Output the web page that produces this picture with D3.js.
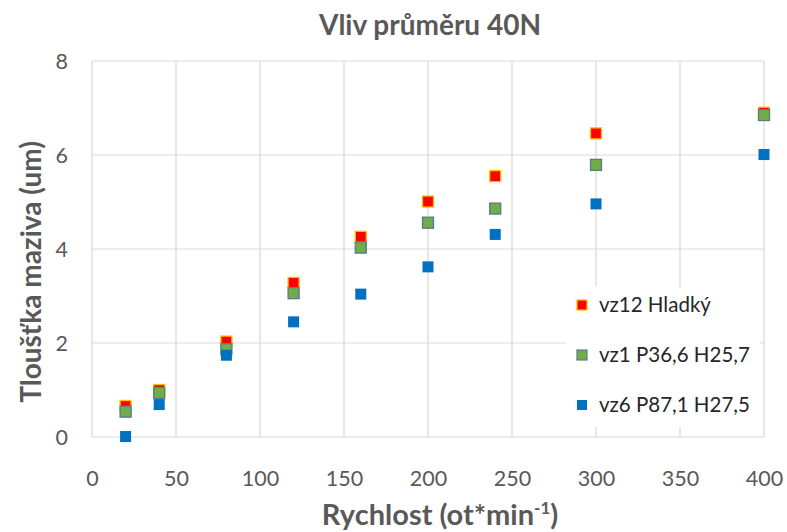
<!DOCTYPE html>
<html>
<head>
<meta charset="utf-8">
<script src="https://cdn.jsdelivr.net/npm/d3@7"></script>
<style>
  html, body { margin: 0; padding: 0; background: #fff; }
  svg { display: block; font-family: Lato, "Open Sans", sans-serif; }
</style>
</head>
<body>
<svg id="chart" width="787" height="532"></svg>
<script>
// Speeds (ot*min^-1) measured for each sample
const speeds = [20, 40, 80, 120, 160, 200, 240, 300, 400];

// Lubricant film thickness (um) per sample
const vz12 = [0.66, 1.00, 2.03, 3.28, 4.26, 5.01, 5.55, 6.46, 6.90];
const vz1  = [0.54, 0.94, 1.87, 3.06, 4.03, 4.56, 4.86, 5.79, 6.85];
const vz6  = [0.01, 0.69, 1.74, 2.45, 3.04, 3.62, 4.31, 4.96, 6.01];

const seriesNames = ["vz12 Hladký", "vz1 P36,6 H25,7", "vz6 P87,1 H27,5"];
const xTicks = [0, 50, 100, 150, 200, 250, 300, 350, 400];
const yTicks = [0, 2, 4, 6, 8];

const series = [
  { name: seriesNames[0], values: vz12, fill: "#ff0000", stroke: "#ffc000" },
  { name: seriesNames[1], values: vz1,  fill: "#70ad47", stroke: "#5b7a8c" },
  { name: seriesNames[2], values: vz6,  fill: "#0070c0", stroke: "none" }
];

const svg = d3.select("#chart");

const x = d3.scaleLinear().domain([0, 400]).range([92, 764]);
const y = d3.scaleLinear().domain([0, 8]).range([437, 61]);

const textColor = "#595959";
const gridColor = "#d9d9d9";
const tickFont = 21.5;

// Gridlines
const grid = svg.append("g");
grid.selectAll("line.v").data(xTicks).join("line")
  .attr("x1", d => x(d)).attr("x2", d => x(d))
  .attr("y1", y(0)).attr("y2", y(8))
  .attr("stroke", gridColor).attr("stroke-width", 1.2);
grid.selectAll("line.h").data(yTicks).join("line")
  .attr("x1", x(0)).attr("x2", x(400))
  .attr("y1", d => y(d)).attr("y2", d => y(d))
  .attr("stroke", gridColor).attr("stroke-width", 1.2);

// Axes (labels only; lines come from the grid)
const xAxis = d3.axisBottom(x).tickValues(xTicks).tickSize(0).tickPadding(0);
const gx = svg.append("g").attr("transform", `translate(0,${y(0)})`).call(xAxis);
gx.select(".domain").remove();
gx.selectAll("text").attr("y", 49).attr("dy", 0)
  .attr("font-size", tickFont).attr("fill", textColor).attr("font-family", "Lato, sans-serif");

const yAxis = d3.axisLeft(y).tickValues(yTicks).tickSize(0).tickPadding(0);
const gy = svg.append("g").attr("transform", `translate(${x(0)},0)`).call(yAxis);
gy.select(".domain").remove();
gy.selectAll("text").attr("x", -24).attr("dy", "0.36em")
  .attr("font-size", tickFont).attr("fill", textColor).attr("font-family", "Lato, sans-serif");

// Markers
const ms = 11;
series.forEach(s => {
  svg.append("g").selectAll("rect").data(s.values).join("rect")
    .attr("x", (d, i) => x(speeds[i]) - ms / 2)
    .attr("y", d => y(d) - ms / 2)
    .attr("width", ms).attr("height", ms)
    .attr("fill", s.fill)
    .attr("stroke", s.stroke)
    .attr("stroke-width", s.stroke === "none" ? 0 : 1.3);
});

// Legend
const legend = svg.append("g").attr("transform", "translate(566,287)");
legend.append("rect").attr("width", 194).attr("height", 140).attr("fill", "#fff");
series.forEach((s, i) => {
  const gy0 = 18 + i * 50;
  legend.append("rect")
    .attr("x", 11).attr("y", gy0 - 5).attr("width", 10).attr("height", 10)
    .attr("fill", s.fill).attr("stroke", s.stroke)
    .attr("stroke-width", s.stroke === "none" ? 0 : 1.2);
  legend.append("text")
    .attr("x", 33).attr("y", gy0).attr("dy", "0.36em")
    .attr("font-size", 20.5).attr("fill", "#262626")
    .text(s.name);
});

// Title
svg.append("text")
  .attr("x", 430).attr("y", 35)
  .attr("text-anchor", "middle")
  .attr("font-size", 28).attr("font-weight", "bold").attr("fill", textColor)
  .text("Vliv průměru 40N");

// Y axis title
svg.append("text")
  .attr("transform", "translate(41,272) rotate(-90)")
  .attr("text-anchor", "middle")
  .attr("font-size", 28).attr("font-weight", "bold").attr("fill", textColor)
  .text("Tloušťka maziva (um)");

// X axis title with superscript
const xt = svg.append("text")
  .attr("x", 440).attr("y", 525)
  .attr("text-anchor", "middle")
  .attr("font-size", 29).attr("font-weight", "bold").attr("fill", textColor);
xt.append("tspan").text("Rychlost (ot*min");
xt.append("tspan").attr("dy", -11).attr("font-size", 17).text("-1");
xt.append("tspan").attr("dy", 11).text(")");
</script>
</body>
</html>
